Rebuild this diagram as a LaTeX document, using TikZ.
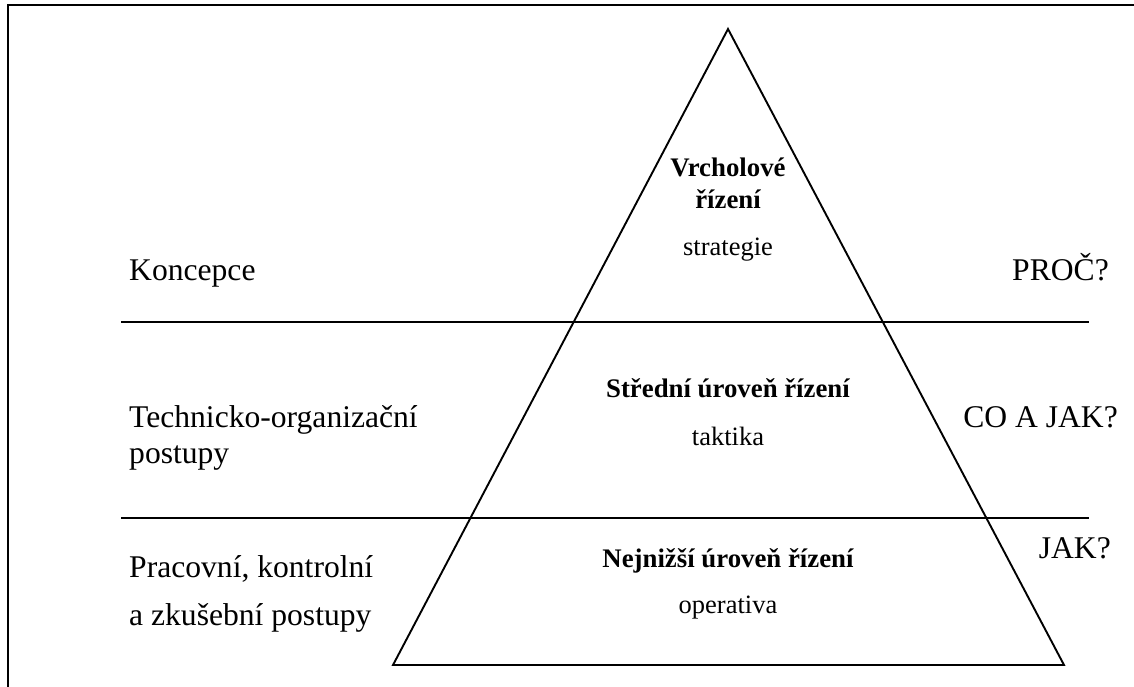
\documentclass[tikz,border=0pt]{standalone}
\usepackage{fontspec}
\setmainfont{Liberation Serif}
\begin{document}
\begin{tikzpicture}[x=1pt,y=-1pt,
  rule/.style={line width=1.9pt,line cap=rect},
  side/.style={inner sep=0pt,font=\fontsize{31.6}{36}\selectfont},
  level/.style={inner sep=0pt,anchor=base,font=\fontsize{26.8}{30}\selectfont\bfseries},
  role/.style={inner sep=0pt,anchor=base,font=\fontsize{26.5}{30}\selectfont}]
\useasboundingbox (0,0) rectangle (1134,687);

% open frame: top and left edges
\coordinate (frameTL) at (8,5);
\coordinate (frameTR) at (1134,5);
\coordinate (frameBL) at (8,687);
\draw[rule] (frameTR) -- (frameTL) -- (frameBL);

% pyramid
\coordinate (apex) at (728,29);
\coordinate (baseL) at (393,665);
\coordinate (baseR) at (1064,665);
\draw[rule,line join=miter] (apex) -- (baseL) -- (baseR) -- cycle;

% dividing lines between the levels
\coordinate (sepAL) at (122,322);
\coordinate (sepAR) at (1088,322);
\coordinate (sepBL) at (122,518);
\coordinate (sepBR) at (1088,518);
\draw[rule] (sepAL) -- (sepAR);
\draw[rule] (sepBL) -- (sepBR);

% left column
\node[side,anchor=base west] (konc) at (129,280) {Koncepce};
\node[side,anchor=base west] (tech1) at (129,427) {Technicko-organizační};
\node[side,anchor=base west] (tech2) at (129,463) {postupy};
\node[side,anchor=base west] (prac1) at (129,577) {Pracovní, kontrolní};
\node[side,anchor=base west] (prac2) at (129,625) {a zkušební postupy};

% right column
\node[side,anchor=base east] (proc) at (1109,280) {PROČ?};
\node[side,anchor=base east] (coajak) at (1118,427) {CO A JAK?};
\node[side,anchor=base east] (jak) at (1111,558) {JAK?};

% management levels inside the pyramid
\node[level] (top1) at (728,177) {Vrcholové};
\node[level] (top2) at (728,208) {řízení};
\node[role] (strat) at (728,255) {strategie};
\node[level] (mid) at (728,397) {Střední úroveň řízení};
\node[role] (takt) at (728,445) {taktika};
\node[level] (low) at (728,567) {Nejnižší úroveň řízení};
\node[role] (oper) at (728,613) {operativa};
\end{tikzpicture}
\end{document}
